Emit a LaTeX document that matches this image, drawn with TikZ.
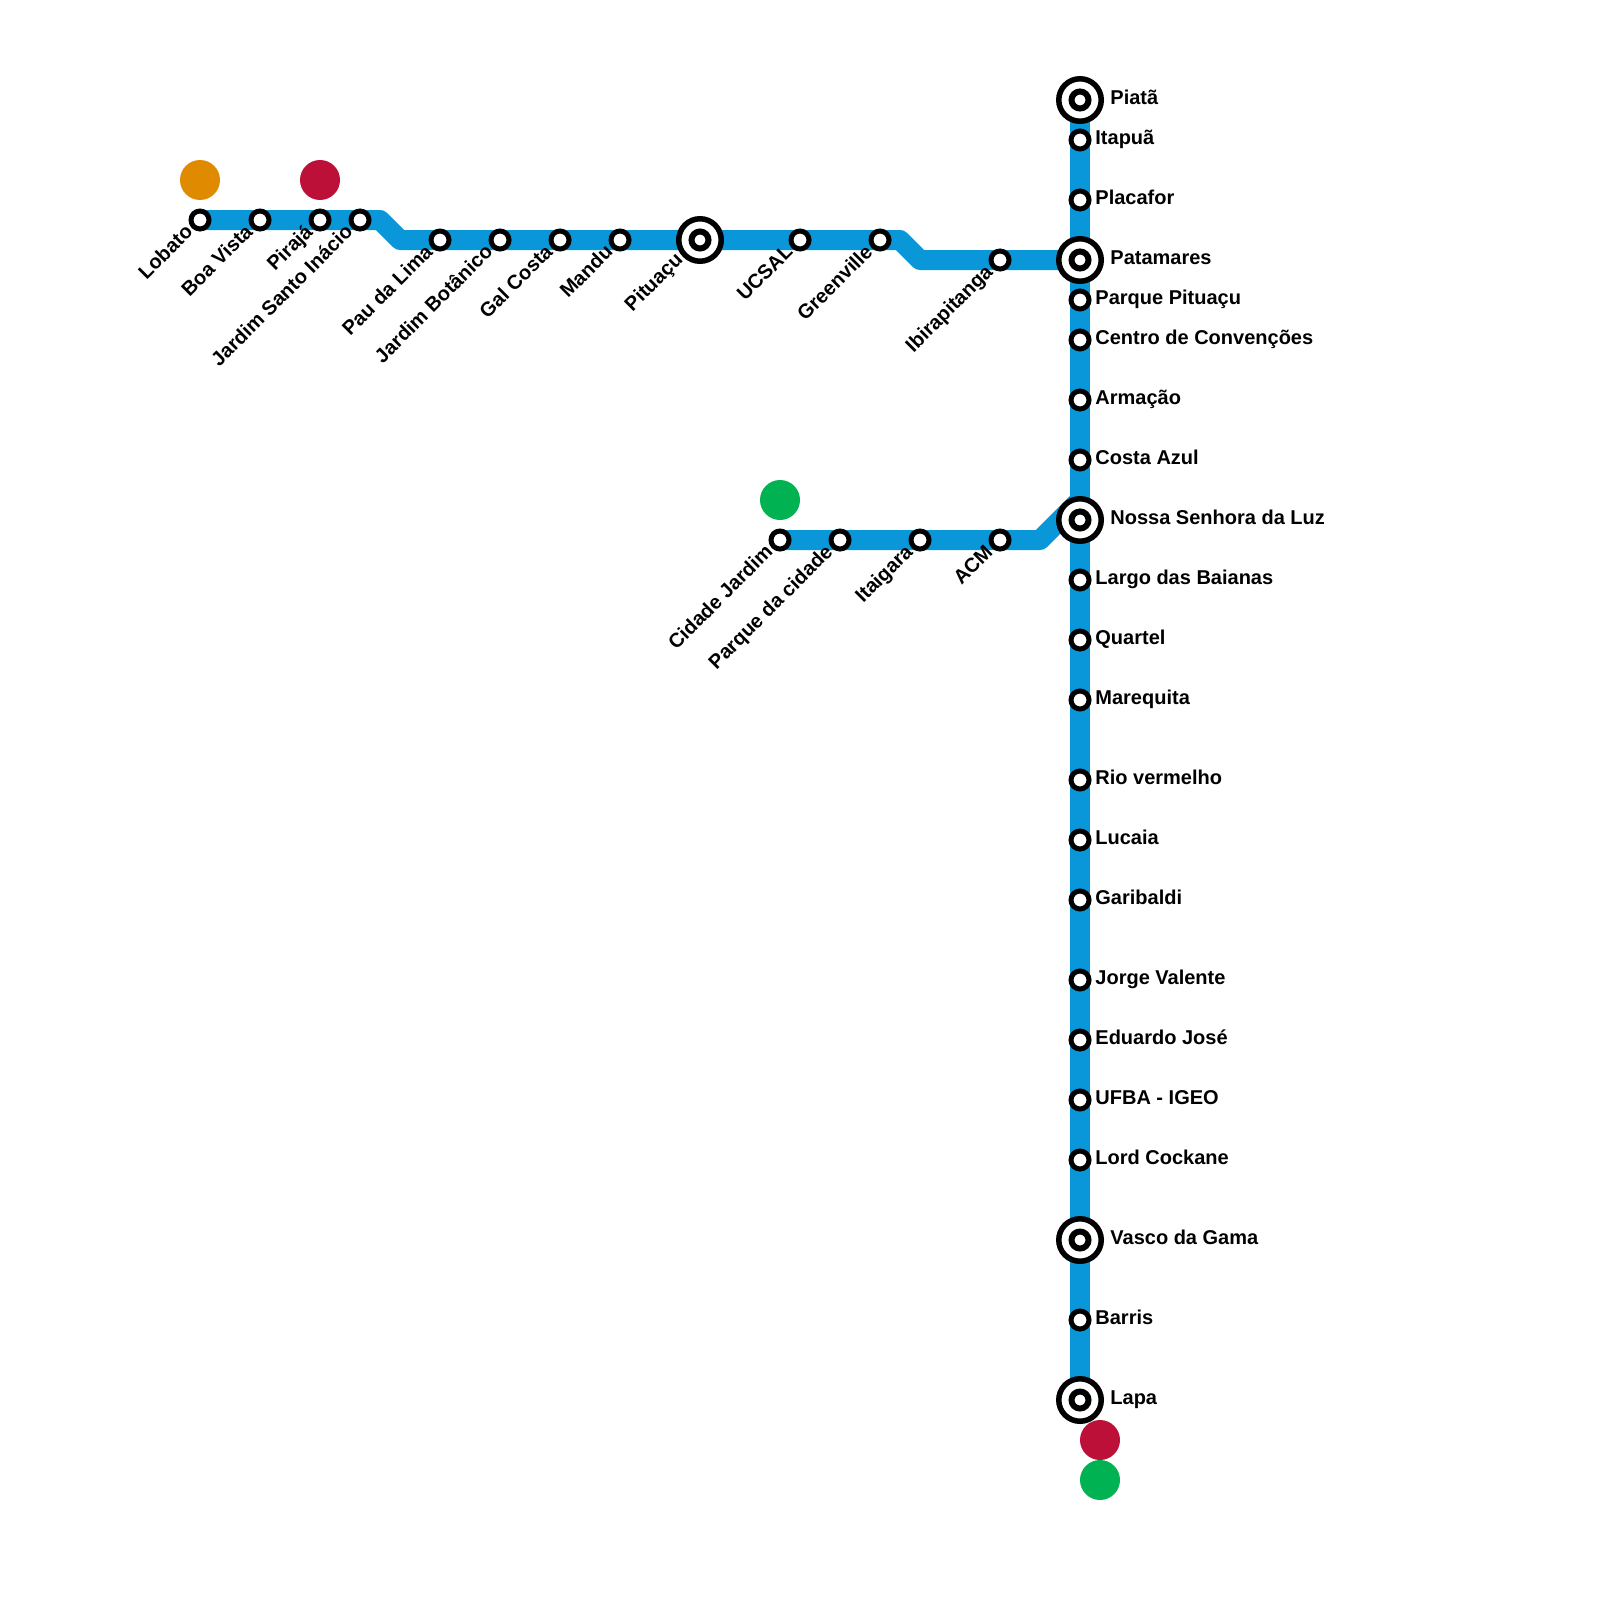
\documentclass[tikz,border=0pt]{standalone}
\usepackage{fontspec}
\setmainfont{Liberation Sans}
\usetikzlibrary{backgrounds}
\definecolor{linha}{HTML}{0A97D9}
\definecolor{laranja}{HTML}{E08A00}
\definecolor{vermelho}{HTML}{BD1038}
\definecolor{verde}{HTML}{00B251}
\tikzset{
  x=0.5pt,y=-0.5pt,
  metro/.style={draw=linha,line width=10pt,line join=round,line cap=butt},
  stn/.style={circle,draw=black,fill=white,line width=2.5pt,minimum size=9pt,inner sep=0pt,outer sep=0pt},
  ring/.style={circle,draw=black,fill=white,line width=2.75pt,minimum size=21.25pt,inner sep=0pt,outer sep=0pt},
  core/.style={circle,draw=black,fill=white,line width=3pt,minimum size=8.5pt,inner sep=0pt,outer sep=0pt},
  dot/.style={circle,fill=#1,draw=none,minimum size=20pt,inner sep=0pt,outer sep=0pt},
  lbl/.style={font=\bfseries\fontsize{10}{12}\selectfont,text=black,inner sep=0pt},
  rlbl/.style={lbl,anchor=base west},
  dlbl/.style={lbl,anchor=base east,rotate=45},
}
% plain station with label on the right
\newcommand{\stR}[4]{\node[stn] (#1) at (#2,#3) {};\node[rlbl] (#1L) at (1095,#3+4.5) {#4};}
% interchange with label on the right
\newcommand{\icR}[4]{\node[ring] (#1) at (#2,#3) {};\node[core] (#1i) at (#2,#3) {};\node[rlbl] (#1L) at (1110,#3+4.5) {#4};}
% plain station with slanted label
\newcommand{\stD}[4]{\node[stn] (#1) at (#2,#3) {};\node[dlbl] (#1L) at (#2-6,#3+13) {#4};}
\begin{document}
\begin{tikzpicture}
\useasboundingbox (0,0) rectangle (1600,1600);
% upper line stations
\stD{lobato}{200}{220}{Lobato}
\stD{boavista}{260}{220}{Boa Vista}
\stD{piraja}{320}{220}{Pirajá}
\stD{jsi}{360}{220}{Jardim Santo Inácio}
\stD{paulima}{440}{240}{Pau da Lima}
\stD{jbot}{500}{240}{Jardim Botânico}
\stD{galcosta}{560}{240}{Gal Costa}
\stD{mandu}{620}{240}{Mandu}
\node[ring] (pituacu) at (700,240) {};
\node[core] (pituacui) at (700,240) {};
\node[dlbl] (pituacuL) at (684,261) {Pituaçu};
\stD{ucsal}{800}{240}{UCSAL}
\stD{greenville}{880}{240}{Greenville}
\stD{ibira}{1000}{260}{Ibirapitanga}
% lower branch
\stD{cidade}{780}{540}{Cidade Jardim}
\stD{parque}{840}{540}{Parque da cidade}
\stD{itaigara}{920}{540}{Itaigara}
\stD{acm}{1000}{540}{ACM}
% main vertical
\icR{piata}{1080}{100}{Piatã}
\stR{itapua}{1080}{140}{Itapuã}
\stR{placafor}{1080}{200}{Placafor}
\icR{patamares}{1080}{260}{Patamares}
\stR{ppituacu}{1080}{300}{Parque Pituaçu}
\stR{centro}{1080}{340}{Centro de Convenções}
\stR{armacao}{1080}{400}{Armação}
\stR{costa}{1080}{460}{Costa Azul}
\icR{nsl}{1080}{520}{Nossa Senhora da Luz}
\stR{largo}{1080}{580}{Largo das Baianas}
\stR{quartel}{1080}{640}{Quartel}
\stR{marequita}{1080}{700}{Marequita}
\stR{rio}{1080}{780}{Rio vermelho}
\stR{lucaia}{1080}{840}{Lucaia}
\stR{garibaldi}{1080}{900}{Garibaldi}
\stR{jorge}{1080}{980}{Jorge Valente}
\stR{eduardo}{1080}{1040}{Eduardo José}
\stR{ufba}{1080}{1100}{UFBA - IGEO}
\stR{lord}{1080}{1160}{Lord Cockane}
\icR{vasco}{1080}{1240}{Vasco da Gama}
\stR{barris}{1080}{1320}{Barris}
\icR{lapa}{1080}{1400}{Lapa}
% terminal dots
\node[dot=laranja] (d1) at (200,180) {};
\node[dot=vermelho] (d2) at (320,180) {};
\node[dot=verde] (d3) at (780,500) {};
\node[dot=vermelho] (d4) at (1100,1440) {};
\node[dot=verde] (d5) at (1100,1480) {};
% bends
\coordinate (b1) at (380,220);
\coordinate (b2) at (400,240);
\coordinate (b3) at (900,240);
\coordinate (b4) at (920,260);
\coordinate (b5) at (1040,540);
\coordinate (b6) at (1080,500);
\begin{pgfonlayer}{background}
\draw[metro] (lobato.center) -- (b1) -- (b2) -- (b3) -- (b4) -- (patamares.center);
\draw[metro] (cidade.center) -- (b5) -- (b6);
\draw[metro] (piata.center) -- (lapa.center);
\end{pgfonlayer}
\end{tikzpicture}
\end{document}
